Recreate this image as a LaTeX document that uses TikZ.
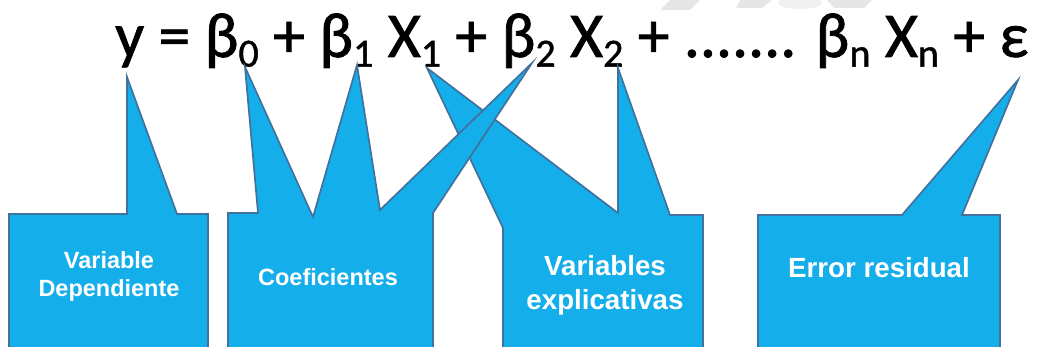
\documentclass[tikz,border=0pt]{standalone}
\usepackage{fontspec}
\usepackage{graphicx}
\usepackage{xcolor}
\usetikzlibrary{positioning}
\setmainfont{Liberation Sans}
\newfontfamily\eqfont[FakeBold=1.2]{Carlito}
\definecolor{calloutfill}{HTML}{14AEEA}
\definecolor{calloutedge}{HTML}{41719C}
\definecolor{wmgray}{HTML}{E6E6E6}
\definecolor{wmlight}{HTML}{F0F0F0}
\newcommand{\lowidx}[1]{\raisebox{-6pt}{\fontsize{25}{28}\selectfont #1}}
\tikzset{
  callout/.style={draw=calloutedge,fill=calloutfill,line width=1.2pt,line join=miter},
  calltext/.style={text=white,align=center,font=\bfseries,inner sep=0pt},
  smallsize/.style={font=\fontsize{16.7}{20}\selectfont\bfseries},
  bigsize/.style={font=\fontsize{19.7}{24}\selectfont\bfseries}
}

\begin{document}
\begin{tikzpicture}[x=0.025cm,y=-0.025cm]
  \useasboundingbox (0,0) rectangle (1040,347);
  \clip (0,0) rectangle (1040,347);
  % faded marks at the top edge
  \fill[wmgray] (670,0)--(700,0)--(690,10)--(660,10)--cycle;
  \fill[wmgray] (740,0)--(772,0)--(762,8)--(736,8)--cycle;
  \fill[wmlight] (800,3) ellipse (22 and 6);
  \fill[wmgray] (827,0)--(872,0)--(864,8)--(834,8)--cycle;
  % equation
  \node[anchor=base west,inner sep=0pt] (eq) at (115,57)
    {\resizebox{22.825cm}{!}{\fontsize{40}{44}\eqfont
      y = β\lowidx{0} + β\lowidx{1} X\lowidx{1} + β\lowidx{2} X\lowidx{2} + ....... β\lowidx{n} X\lowidx{n} + ε}};
  % callouts
  \draw[callout] (9,214)--(127,214)--(127,77)--(177,214)--(208,214)--(208,350)--(9,350)--cycle;
  \draw[callout] (503,350)--(503,228)--(427,68)--(618,213)--(618,68)--(670,215)--(703,215)--(703,350)--cycle;
  \draw[callout] (228,213)--(258,213)--(245,67)--(313,217)--(357,65)--(380,210)--(532,63)--(433,213)--(433,350)--(228,350)--cycle;
  \draw[callout] (758,215)--(902,215)--(1018,80)--(962,215)--(1000,215)--(1000,350)--(758,350)--cycle;
  % labels
  \node[calltext,smallsize] (dep) at (109,276) {Variable\\Dependiente};
  \node[calltext,smallsize] (coef) at (328,277) {Coeficientes};
  \node[calltext,bigsize] (expl) at (605,285) {Variables\\explicativas};
  \node[calltext,bigsize] (err) at (879,268) {Error residual};
\end{tikzpicture}
\end{document}
